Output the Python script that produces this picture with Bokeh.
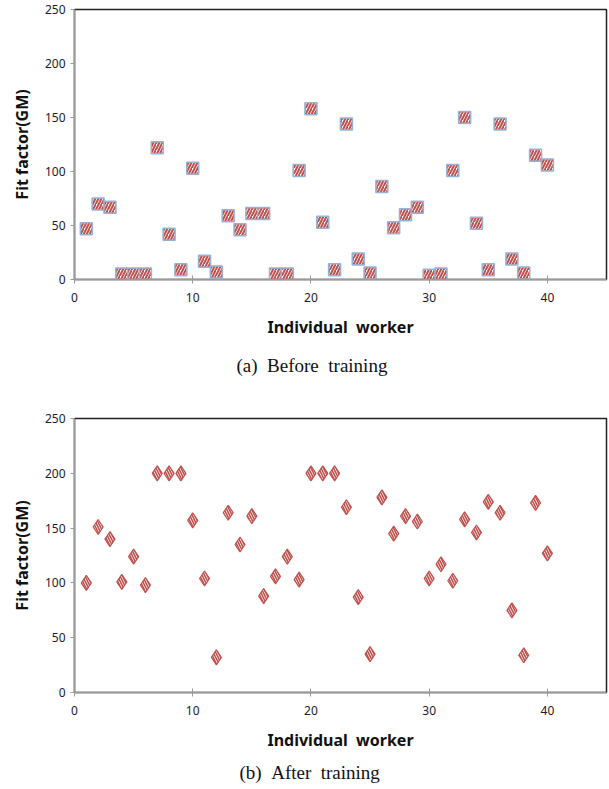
from bokeh.plotting import figure
from bokeh.layouts import column
from bokeh.models import Range1d, FixedTicker, Title, ColumnDataSource
from bokeh.embed import file_html
from bokeh.resources import INLINE

workers = list(range(1, 41))
before = [47, 70, 67, 5, 5, 5, 122, 42, 9, 103,
          17, 7, 59, 46, 61, 61, 5, 5, 101, 158,
          53, 9, 144, 19, 6, 86, 48, 60, 67, 4,
          5, 101, 150, 52, 9, 144, 19, 6, 115, 106]
after = [100, 151, 140, 101, 124, 98, 200, 200, 200, 157,
         104, 32, 164, 135, 161, 88, 106, 124, 103, 200,
         200, 200, 169, 87, 35, 178, 145, 161, 156, 104,
         117, 102, 158, 146, 174, 164, 75, 34, 173, 127]
x_ticks = [0, 10, 20, 30, 40]
y_ticks = [0, 50, 100, 150, 200, 250]

RED = "#c0504d"
NB = "\u00a0"


def make_fig(height, left, top, bottom, right, caption, cap_offset, cap_standoff):
    p = figure(width=609, height=height, output_backend="svg", toolbar_location=None,
               x_range=Range1d(0, 45), y_range=Range1d(0, 250),
               min_border_left=left, min_border_right=right,
               min_border_top=top, min_border_bottom=bottom)
    p.grid.visible = False
    p.outline_line_color = "#222222"
    p.outline_line_width = 1.5
    p.background_fill_color = "white"
    p.border_fill_color = "white"
    for ax in (p.xaxis[0], p.yaxis[0]):
        ax.axis_line_color = "#9a9a9a"
        ax.axis_line_width = 1.5
        ax.major_tick_line_color = "#9a9a9a"
        ax.minor_tick_line_color = None
        ax.major_label_text_font = "Noto Sans"
        ax.major_label_text_font_size = "12px"
        ax.major_label_text_color = "#1a1a2e"
        ax.axis_label_text_font = "Noto Sans"
        ax.axis_label_text_font_style = "bold"
        ax.axis_label_text_font_size = "16px"
        ax.axis_label_text_color = "#111111"
    p.xaxis.ticker = FixedTicker(ticks=x_ticks)
    p.yaxis.ticker = FixedTicker(ticks=y_ticks)
    p.xaxis.major_tick_in = 4
    p.xaxis.major_tick_out = 4
    p.yaxis.major_tick_in = 0
    p.yaxis.major_tick_out = 4
    p.xaxis.major_label_standoff = 9
    p.yaxis.major_label_standoff = 5
    p.xaxis.axis_label = "Individual" + NB + NB + "worker"
    p.yaxis.axis_label = "Fit factor(GM)"
    p.xaxis.axis_label_standoff = 11
    p.yaxis.axis_label_standoff = 9
    t = Title(text=caption, align="left", offset=cap_offset,
              text_font="Liberation Serif", text_font_size="19px",
              text_font_style="normal", text_color="#111111", standoff=cap_standoff)
    p.add_layout(t, "below")
    return p


src = ColumnDataSource(dict(x=workers, before=before, after=after))

p1 = make_fig(395, 71, 9, 116, 3, "(a)" + NB + NB + "Before" + NB + NB + "training", 162, 24)
p1.scatter("x", "before", source=src, marker="square", size=12,
           fill_color="white", line_color="#95b3d7", line_width=1.5,
           hatch_pattern="/", hatch_color=RED, hatch_scale=6, hatch_weight=2)

p2 = make_fig(394, 74, 23, 97, 3, "(b)" + NB + NB + "After" + NB + NB + "training", 165, 13)
p2.scatter("x", "after", source=src, marker="diamond", size=15,
           fill_color="white", line_color=RED, line_width=1.2,
           hatch_pattern="\\", hatch_color=RED, hatch_scale=5, hatch_weight=1.6)

layout = column(p1, p2, spacing=0)
open("out.html", "w").write(file_html(layout, INLINE))
